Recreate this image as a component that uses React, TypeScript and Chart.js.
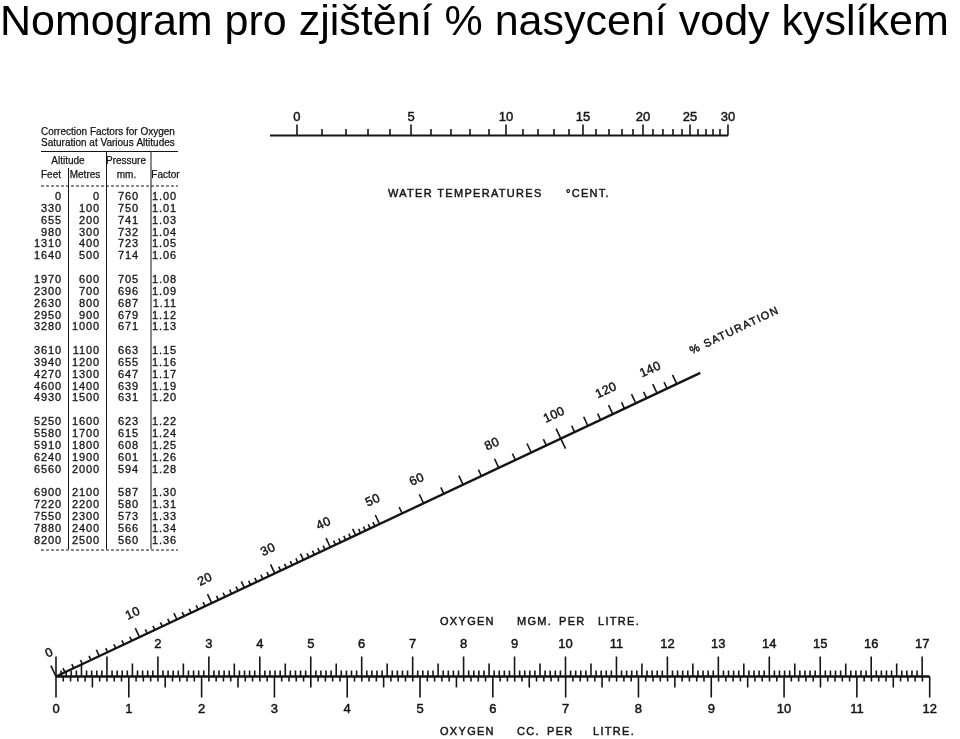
import { useEffect, useRef } from "react";
import { Chart, registerables } from "chart.js";

Chart.register(...registerables);

const TITLE = "Nomogram pro zjištění % nasycení vody kyslíkem";

// ---- Altitude correction table ----
const TABLE_TITLE = ["Correction Factors for Oxygen", "Saturation at Various Altitudes"];
const ALT_FEET = [0, 330, 655, 980, 1310, 1640, 1970, 2300, 2630, 2950, 3280, 3610, 3940, 4270, 4600, 4930, 5250, 5580, 5910, 6240, 6560, 6900, 7220, 7550, 7880, 8200];
const ALT_METRES = [0, 100, 200, 300, 400, 500, 600, 700, 800, 900, 1000, 1100, 1200, 1300, 1400, 1500, 1600, 1700, 1800, 1900, 2000, 2100, 2200, 2300, 2400, 2500];
const PRESSURE_MM = [760, 750, 741, 732, 723, 714, 705, 696, 687, 679, 671, 663, 655, 647, 639, 631, 623, 615, 608, 601, 594, 587, 580, 573, 566, 560];
const FACTOR = ["1.00", "1.01", "1.03", "1.04", "1.05", "1.06", "1.08", "1.09", "1.11", "1.12", "1.13", "1.15", "1.16", "1.17", "1.19", "1.20", "1.22", "1.24", "1.25", "1.26", "1.28", "1.30", "1.31", "1.33", "1.34", "1.36"];
const ROW_GROUPS = [6, 5, 5, 5, 5];

// ---- Water temperature scale (°C) and position on the shared x axis ----
const TEMP_C = [0, 1, 2, 3, 4, 5, 6, 7, 8, 9, 10, 11, 12, 13, 14, 15, 16, 17, 18, 19, 20, 21, 22, 23, 24, 25, 26, 27, 28, 29, 30];
const TEMP_POS = [4.73, 5.221, 5.692, 6.124, 6.555, 6.968, 7.36, 7.753, 8.126, 8.499, 8.832, 9.166, 9.46, 9.774, 10.069, 10.343, 10.599, 10.854, 11.109, 11.325, 11.521, 11.717, 11.913, 12.11, 12.287, 12.444, 12.6, 12.758, 12.895, 13.032, 13.189];
const TEMP_LABELS = [0, 5, 10, 15, 20, 25, 30];

// ---- Oxygen scales ----
const MG_MAX = 17;
const MG_LABELS = [2, 3, 4, 5, 6, 7, 8, 9, 10, 11, 12, 13, 14, 15, 16, 17];
const CC_MAX = 12;
const CC_LABELS = [0, 1, 2, 3, 4, 5, 6, 7, 8, 9, 10, 11, 12];
const MG_PER_CC = 1.429;

// ---- % saturation scale ----
const SAT_LABELS = [0, 10, 20, 30, 40, 50, 60, 80, 100, 120, 140];
const SAT_FINE_MAX = 50; // ticks every 1 %
const SAT_TICK_MAX = 150; // then every 5 %
const SAT_LINE_END = 163;
const SAT_K = 0.785;

// geometry of the sheet (axis units)
const X_MIN = -1.099, X_MAX = 17.743;
const Y_MIN = -1.2267, Y_MAX = 12.417;
const TOP_Y = 10.618;
const TOP_START = 4.2;
const SAT_POLE = { x: 22.53, y: 10.618 };

const INK = "#141414";
const SANS = '"Liberation Sans", Arial, sans-serif';

function satPoint(p: number) {
  const q = (SAT_K * p) / 100;
  const t = q / (1 + q);
  return { x: SAT_POLE.x * t, y: SAT_POLE.y * t };
}

function seg(ctx: any, x1: number, y1: number, x2: number, y2: number) {
  ctx.beginPath();
  ctx.moveTo(x1, y1);
  ctx.lineTo(x2, y2);
  ctx.stroke();
}

function txt(ctx: any, s: string, x: number, y: number, font: string, align = "center", spacing = 0, angle = 0, weight = 0.45) {
  ctx.save();
  ctx.translate(x, y);
  if (angle) ctx.rotate(angle);
  ctx.font = font;
  ctx.textAlign = align;
  ctx.textBaseline = "middle";
  ctx.letterSpacing = spacing + "px";
  ctx.fillText(s, 0, 0);
  if (weight > 0) {
    ctx.lineWidth = weight;
    ctx.lineJoin = "round";
    ctx.strokeText(s, 0, 0);
  }
  ctx.restore();
}

const tablePlugin = {
  id: "altTable",
  afterDraw(chart: any) {
    const ctx = chart.ctx;
    ctx.save();
    ctx.fillStyle = INK;
    ctx.strokeStyle = INK;
    const hf = `10px ${SANS}`;
    txt(ctx, TABLE_TITLE[0], 41, 132, hf, "left", 0, 0, 0.25);
    txt(ctx, TABLE_TITLE[1], 41, 143.5, hf, "left", 0, 0, 0.25);
    ctx.lineWidth = 1;
    seg(ctx, 41, 151.5, 178, 151.5);
    txt(ctx, "Altitude", 68, 161.5, hf, "center", 0, 0, 0.25);
    txt(ctx, "Pressure", 126, 161.5, hf, "center", 0, 0, 0.25);
    txt(ctx, "Feet", 51, 175, hf, "center", 0, 0, 0.25);
    txt(ctx, "Metres", 85, 175, hf, "center", 0, 0, 0.25);
    txt(ctx, "mm.", 126.5, 175, hf, "center", 0, 0, 0.25);
    txt(ctx, "Factor", 165.5, 175, hf, "center", 0, 0, 0.25);
    ctx.lineWidth = 1;
    ctx.setLineDash([3, 2]);
    seg(ctx, 41, 186, 178, 186);
    seg(ctx, 41, 550, 178, 550);
    ctx.setLineDash([]);
    seg(ctx, 68.5, 168, 68.5, 549);
    seg(ctx, 106.5, 152, 106.5, 549);
    seg(ctx, 151, 152, 151, 549);
    const vf = `11px ${SANS}`;
    let row = 0;
    let i = 0;
    ROW_GROUPS.forEach((n) => {
      for (let k = 0; k < n; k++, i++, row++) {
        const y = 197 + row * 11.85;
        txt(ctx, String(ALT_FEET[i]), 62, y, vf, "right", 0.9, 0, 0.3);
        txt(ctx, String(ALT_METRES[i]), 100, y, vf, "right", 0.9, 0, 0.3);
        txt(ctx, String(PRESSURE_MM[i]), 128.5, y, vf, "center", 0.9, 0, 0.3);
        txt(ctx, FACTOR[i], 177, y, vf, "right", 0.9, 0, 0.3);
      }
      row++;
    });
    ctx.restore();
  },
};

const nomogramPlugin = {
  id: "nomogram",
  afterDatasetsDraw(chart: any) {
    const ctx = chart.ctx;
    const xs = chart.scales.x;
    const ys = chart.scales.y;
    const X = (v: number) => xs.getPixelForValue(v);
    const Y = (v: number) => ys.getPixelForValue(v);
    const lf = `13px ${SANS}`;
    const cap = `11px ${SANS}`;
    ctx.save();
    ctx.strokeStyle = INK;
    ctx.fillStyle = INK;
    ctx.lineWidth = 1.6;

    // bottom: mg per litre (above) and cc per litre (below)
    const by = Y(0);
    for (let i = 0; i <= MG_MAX * 10; i++) {
      const px = X(i / 10);
      const len = i % 10 === 0 ? 20 : i % 5 === 0 ? 13 : 6;
      seg(ctx, px, by, px, by - len);
    }
    for (let i = 0; i <= CC_MAX * 10; i++) {
      const px = X((i / 10) * MG_PER_CC);
      const len = i % 10 === 0 ? 21 : i % 5 === 0 ? 11 : 5;
      seg(ctx, px, by, px, by + len);
    }
    MG_LABELS.forEach((v) => txt(ctx, String(v), X(v), by - 32.5, lf));
    CC_LABELS.forEach((v) => txt(ctx, String(v), X(v * MG_PER_CC), by + 32.5, lf));
    const oy = by - 54.5;
    txt(ctx, "OXYGEN", 440, oy, cap, "left", 1.3);
    txt(ctx, "MGM.", 517, oy, cap, "left", 1.3);
    txt(ctx, "PER", 559, oy, cap, "left", 1.3);
    txt(ctx, "LITRE.", 598, oy, cap, "left", 1.3);
    const cy = by + 55;
    txt(ctx, "OXYGEN", 440, cy, cap, "left", 1.3);
    txt(ctx, "CC.", 517, cy, cap, "left", 1.3);
    txt(ctx, "PER", 547, cy, cap, "left", 1.3);
    txt(ctx, "LITRE.", 593, cy, cap, "left", 1.3);

    // top: water temperature
    ctx.lineWidth = 1.6;
    const ty = Y(TOP_Y);
    TEMP_C.forEach((c, k) => {
      const px = X(TEMP_POS[k]);
      const len = TEMP_LABELS.includes(c) ? 11 : 6.5;
      seg(ctx, px, ty, px, ty - len);
    });
    TEMP_LABELS.forEach((c) => txt(ctx, String(c), X(TEMP_POS[TEMP_C.indexOf(c)]), ty - 18.5, lf));
    txt(ctx, "WATER TEMPERATURES", 388, ty + 58.5, cap, "left", 1.3);
    txt(ctx, "°CENT.", 566, ty + 58.5, cap, "left", 1.3);

    // diagonal: % saturation
    const P = (p: number) => {
      const s = satPoint(p);
      return { x: X(s.x), y: Y(s.y) };
    };
    const a = P(0);
    const b = P(SAT_LINE_END);
    const L = Math.hypot(b.x - a.x, b.y - a.y);
    const t = { x: (b.x - a.x) / L, y: (b.y - a.y) / L };
    const n = { x: t.y, y: -t.x };
    const ang = Math.atan2(t.y, t.x);
    const ticks: number[] = [];
    for (let p = 0; p <= SAT_FINE_MAX; p++) ticks.push(p);
    for (let p = SAT_FINE_MAX + 5; p <= SAT_TICK_MAX; p += 5) ticks.push(p);
    ctx.lineWidth = 1.6;
    ticks.forEach((p) => {
      const q = P(p);
      if (p === 100) {
        seg(ctx, q.x - n.x * 11, q.y - n.y * 11, q.x + n.x * 11, q.y + n.y * 11);
        return;
      }
      const len = p === 0 ? 12 : p % 10 === 0 ? 10 : p % 5 === 0 ? 7 : 4.5;
      seg(ctx, q.x, q.y, q.x + n.x * len, q.y + n.y * len);
    });
    SAT_LABELS.forEach((p) => {
      const q = P(p);
      txt(ctx, String(p), q.x + n.x * 24 + t.x * 4, q.y + n.y * 24 + t.y * 4, `12.5px ${SANS}`, "center", 0.3, ang);
    });
    txt(ctx, "% SATURATION", b.x + t.x * 49 + n.x * 23.5, b.y + t.y * 49 + n.y * 23.5, cap, "center", 1.3, ang);
    ctx.restore();
  },
};

export default function App() {
  const ref = useRef<HTMLCanvasElement | null>(null);
  useEffect(() => {
    if (!ref.current) return;
    const lineDs = (data: any[], width: number) => ({
      data,
      showLine: true,
      borderColor: INK,
      borderWidth: width,
      pointRadius: 0,
      fill: false,
    });
    const chart = new Chart(ref.current, {
      type: "scatter",
      data: {
        datasets: [
          lineDs([{ x: 0, y: 0 }, { x: CC_MAX * MG_PER_CC, y: 0 }], 2.6),
          lineDs([{ x: TOP_START, y: TOP_Y }, { x: TEMP_POS[TEMP_POS.length - 1], y: TOP_Y }], 2),
          lineDs([satPoint(0), satPoint(SAT_LINE_END)], 2.4),
        ] as any,
      },
      options: {
        animation: false,
        responsive: true,
        maintainAspectRatio: false,
        layout: { padding: 0 },
        scales: {
          x: { type: "linear", min: X_MIN, max: X_MAX, display: false },
          y: { type: "linear", min: Y_MIN, max: Y_MAX, display: false },
        },
        plugins: {
          legend: { display: false },
          tooltip: { enabled: false },
          title: {
            display: true,
            text: TITLE,
            align: "start",
            color: "#000",
            padding: { top: 3, bottom: 0 },
            font: { size: 43, family: SANS, weight: "normal", lineHeight: 0.95 },
          },
        },
      } as any,
      plugins: [tablePlugin, nomogramPlugin],
    });
    return () => chart.destroy();
  }, []);
  return (
    <div style={{ position: "absolute", left: 0, top: 0, width: 960, height: 739, background: "#fff" }}>
      <canvas ref={ref} />
    </div>
  );
}
